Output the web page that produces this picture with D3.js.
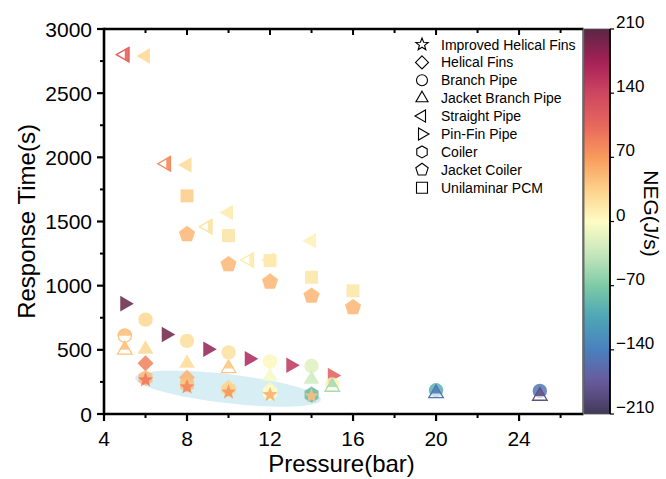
<!DOCTYPE html>
<html lang="en">
  <head>
    <meta charset="UTF-8" />
    <title>Response Time vs Pressure</title>
    <script src="https://d3js.org/d3.v7.min.js"></script>
    <style>
      body { margin: 0; background: white; }
      text { font-family: "Liberation Sans", Arial, sans-serif; fill: #000; }
    </style>
  </head>
  <body>
    <div id="chart"></div>
    <script>
      // ----------- Data ----------- //
      var seriesNames = ['Improved Helical Fins', 'Helical Fins', 'Branch Pipe', 'Jacket Branch Pipe',
        'Straight Pipe', 'Pin-Fin Pipe', 'Coiler', 'Jacket Coiler', 'Unilaminar PCM'];
      var seriesShapes = ['star', 'diamond', 'circle', 'triangle', 'triLeft', 'triRight', 'hexagon', 'pentagon', 'square'];

      // pressure (bar), response time (s), NEG (J/s), style: f = filled, h = half filled
      var improvedP = [6, 8, 10, 12, 14];
      var improvedT = [265, 210, 170, 150, 140];
      var improvedN = [95, 85, 75, 60, 45];
      var improvedS = ['f', 'f', 'f', 'f', 'f'];

      var helicalP = [6, 8, 10, 12, 14];
      var helicalT = [395, 285, 205, 190, 160];
      var helicalN = [88, 55, 35, 5, -25];
      var helicalS = ['f', 'f', 'f', 'f', 'f'];

      var branchP = [5, 6, 8, 10, 12, 14, 15, 20, 25];
      var branchT = [610, 735, 570, 480, 410, 375, 230, 185, 180];
      var branchN = [45, 30, 25, 22, 5, -20, 10, -95, -150];
      var branchS = ['h', 'f', 'f', 'f', 'f', 'f', 'f', 'f', 'f'];

      var jacketBranchP = [5, 6, 8, 10, 12, 14, 15, 20, 25];
      var jacketBranchT = [500, 505, 395, 355, 295, 270, 210, 160, 140];
      var jacketBranchN = [45, 30, 28, 40, -5, -30, -50, -150, -185];
      var jacketBranchS = ['h', 'f', 'f', 'h', 'f', 'f', 'h', 'h', 'h'];

      var straightP = [5, 6, 7, 8, 9, 10, 11, 12, 14];
      var straightT = [2800, 2790, 1950, 1940, 1460, 1570, 1200, 1200, 1350];
      var straightN = [110, 30, 80, 28, 20, 15, 15, 15, 10];
      var straightS = ['h', 'f', 'h', 'f', 'h', 'f', 'h', 'f', 'f'];

      var pinFinP = [5, 7, 9, 11, 13, 15];
      var pinFinT = [860, 620, 505, 430, 380, 300];
      var pinFinN = [205, 200, 185, 170, 155, 115];
      var pinFinS = ['f', 'f', 'f', 'f', 'f', 'f'];

      var coilerP = [6, 8, 10, 12, 14];
      var coilerT = [280, 230, 195, 165, 150];
      var coilerN = [50, 45, 30, 0, -85];
      var coilerS = ['f', 'f', 'f', 'f', 'f'];

      var jacketCoilerP = [8, 10, 12, 14, 16];
      var jacketCoilerT = [1400, 1165, 1030, 920, 830];
      var jacketCoilerN = [52, 52, 52, 52, 52];
      var jacketCoilerS = ['f', 'f', 'f', 'f', 'f'];

      var unilaminarP = [8, 10, 12, 14, 16];
      var unilaminarT = [1700, 1390, 1195, 1065, 960];
      var unilaminarN = [38, 20, 18, 18, 18];
      var unilaminarS = ['f', 'f', 'f', 'f', 'f'];

      var xTicks = [4, 8, 12, 16, 20, 24];
      var yTicks = [0, 500, 1000, 1500, 2000, 2500, 3000];
      var cbTicks = [210, 140, 70, 0, -70, -140, -210];

      // highlighted region (ellipse between two data points)
      var ellipseEnds = [[5.5, 282], [14.45, 112]];

      // ----------- Basic Variables ----------- //
      var width = 666, height = 479;
      var mLeft = 104, mTop = 29, plotW = 479, plotH = 385;
      var cbX = 584, cbW = 26;

      var svg = d3.select('#chart').append('svg')
        .attr('width', width)
        .attr('height', height);

      var xScale = d3.scaleLinear().domain([4, 27.08]).range([mLeft, mLeft + plotW]);
      var yScale = d3.scaleLinear().domain([0, 3000]).range([mTop + plotH, mTop]);

      var colorScale = d3.scaleLinear()
        .domain([-210, -175, -140, -105, -70, -35, 0, 35, 70, 105, 140, 175, 210])
        .range(['#403a58', '#6a5a9c', '#4a80be', '#4ca5b6', '#7ecaa6', '#c6e7bd', '#fefcc4',
                '#fdd18a', '#f89a5c', '#e8675c', '#cd4660', '#a52058', '#5a2644'])
        .interpolate(d3.interpolateRgb);

      // ----------- Symbols ----------- //
      function shapePath(type, r) {
        var pts = [], i, a;
        if (type === 'circle') {
          return 'M' + r + ',0A' + r + ',' + r + ' 0 1,1 ' + (-r) + ',0A' + r + ',' + r + ' 0 1,1 ' + r + ',0Z';
        }
        if (type === 'square') {
          pts = [[-r, -r], [r, -r], [r, r], [-r, r]];
        } else if (type === 'diamond') {
          pts = [[0, -r], [r, 0], [0, r], [-r, 0]];
        } else if (type === 'triangle') {
          pts = [[0, -r], [0.866 * r, 0.5 * r], [-0.866 * r, 0.5 * r]];
        } else if (type === 'triLeft') {
          pts = [[-r, 0], [0.5 * r, -0.866 * r], [0.5 * r, 0.866 * r]];
        } else if (type === 'triRight') {
          pts = [[r, 0], [-0.5 * r, -0.866 * r], [-0.5 * r, 0.866 * r]];
        } else if (type === 'hexagon') {
          for (i = 0; i < 6; i++) { a = Math.PI / 3 * i - Math.PI / 2; pts.push([r * Math.cos(a), r * Math.sin(a)]); }
        } else if (type === 'pentagon') {
          for (i = 0; i < 5; i++) { a = 2 * Math.PI / 5 * i - Math.PI / 2; pts.push([r * Math.cos(a), r * Math.sin(a)]); }
        } else if (type === 'star') {
          for (i = 0; i < 10; i++) {
            a = Math.PI / 5 * i - Math.PI / 2;
            var rr = i % 2 === 0 ? r : r * 0.42;
            pts.push([rr * Math.cos(a), rr * Math.sin(a)]);
          }
        }
        return 'M' + pts.map(function(p) { return p[0].toFixed(2) + ',' + p[1].toFixed(2); }).join('L') + 'Z';
      }

      var markerSize = { star: 8, diamond: 8, circle: 7.2, triangle: 9, triLeft: 9, triRight: 9,
        hexagon: 8, pentagon: 8.5, square: 6.5 };
      var legendSize = { star: 6.5, diamond: 6.5, circle: 5.5, triangle: 7, triLeft: 7, triRight: 7,
        hexagon: 6, pentagon: 6.5, square: 5.5 };

      var defs = svg.append('defs');
      defs.append('clipPath').attr('id', 'clipTop')
        .append('rect').attr('x', -20).attr('y', -20).attr('width', 40).attr('height', 20);
      defs.append('clipPath').attr('id', 'clipRight')
        .append('rect').attr('x', 0).attr('y', -20).attr('width', 20).attr('height', 40);
      defs.append('clipPath').attr('id', 'plotClip')
        .append('rect').attr('x', mLeft).attr('y', mTop).attr('width', plotW).attr('height', plotH);

      // ----------- Highlight ellipse ----------- //
      var e0 = [xScale(ellipseEnds[0][0]), yScale(ellipseEnds[0][1])];
      var e1 = [xScale(ellipseEnds[1][0]), yScale(ellipseEnds[1][1])];
      var ecx = (e0[0] + e1[0]) / 2, ecy = (e0[1] + e1[1]) / 2;
      var erx = Math.hypot(e1[0] - e0[0], e1[1] - e0[1]) / 2;
      var eAngle = Math.atan2(e1[1] - e0[1], e1[0] - e0[0]) * 180 / Math.PI;
      svg.append('ellipse')
        .attr('cx', 0).attr('cy', 0)
        .attr('rx', erx).attr('ry', 14.5)
        .attr('transform', 'translate(' + ecx + ',' + ecy + ') rotate(' + eAngle + ')')
        .style('fill', '#d3ecf3')
        .style('opacity', 0.9);

      // ----------- Markers ----------- //
      var seriesData = [
        ['square', unilaminarP, unilaminarT, unilaminarN, unilaminarS],
        ['pentagon', jacketCoilerP, jacketCoilerT, jacketCoilerN, jacketCoilerS],
        ['triLeft', straightP, straightT, straightN, straightS],
        ['triRight', pinFinP, pinFinT, pinFinN, pinFinS],
        ['circle', branchP, branchT, branchN, branchS],
        ['triangle', jacketBranchP, jacketBranchT, jacketBranchN, jacketBranchS],
        ['diamond', helicalP, helicalT, helicalN, helicalS],
        ['hexagon', coilerP, coilerT, coilerN, coilerS],
        ['star', improvedP, improvedT, improvedN, improvedS]
      ];

      var markLayer = svg.append('g').attr('clip-path', 'url(#plotClip)');

      seriesData.forEach(function(s) {
        var shape = s[0];
        var pts = s[1].map(function(p, i) { return { p: p, t: s[2][i], n: s[3][i], st: s[4][i] }; });
        var g = markLayer.selectAll(null)
          .data(pts)
          .enter()
          .append('g')
          .attr('transform', function(d) { return 'translate(' + xScale(d.p) + ',' + yScale(d.t) + ')'; });

        g.filter(function(d) { return d.st === 'f'; })
          .append('path')
          .attr('d', shapePath(shape, markerSize[shape]))
          .style('fill', function(d) { return colorScale(d.n); })
          .style('fill-opacity', 0.85);

        var half = g.filter(function(d) { return d.st === 'h'; });
        half.append('path')
          .attr('d', shapePath(shape, markerSize[shape] - 0.6))
          .style('fill', 'white')
          .style('fill-opacity', 0.6)
          .style('stroke', function(d) { return colorScale(d.n); })
          .style('stroke-width', 1.3);
        half.append('path')
          .attr('d', shapePath(shape, markerSize[shape]))
          .attr('clip-path', shape === 'triLeft' ? 'url(#clipRight)' : 'url(#clipTop)')
          .style('fill', function(d) { return colorScale(d.n); })
          .style('fill-opacity', 0.9);
      });

      // ----------- Axes ----------- //
      var axisColor = '#000';
      var frame = svg.append('g');
      frame.append('line').attr('x1', mLeft).attr('x2', mLeft + plotW)
        .attr('y1', mTop + plotH).attr('y2', mTop + plotH)
        .style('stroke', axisColor).style('stroke-width', 2.6);
      frame.append('line').attr('x1', mLeft).attr('x2', mLeft + plotW)
        .attr('y1', mTop).attr('y2', mTop)
        .style('stroke', axisColor).style('stroke-width', 2.6);
      frame.append('line').attr('x1', mLeft).attr('x2', mLeft)
        .attr('y1', mTop - 1.3).attr('y2', mTop + plotH + 1.3)
        .style('stroke', axisColor).style('stroke-width', 2.6);

      var xMinor = d3.range(6, 27, 4);
      var yMinor = d3.range(250, 3000, 500);

      // bottom axis
      var xAxis = svg.append('g').attr('class', 'x-axis');
      xAxis.selectAll('.maj').data(xTicks).enter().append('line')
        .attr('x1', function(d) { return xScale(d); }).attr('x2', function(d) { return xScale(d); })
        .attr('y1', mTop + plotH).attr('y2', mTop + plotH + 7)
        .style('stroke', axisColor).style('stroke-width', 2.2);
      xAxis.selectAll('.min').data(xMinor).enter().append('line')
        .attr('x1', function(d) { return xScale(d); }).attr('x2', function(d) { return xScale(d); })
        .attr('y1', mTop + plotH).attr('y2', mTop + plotH + 4)
        .style('stroke', axisColor).style('stroke-width', 2);
      xAxis.selectAll('text').data(xTicks).enter().append('text')
        .attr('x', function(d) { return xScale(d); })
        .attr('y', mTop + plotH + 32)
        .attr('text-anchor', 'middle')
        .style('font-size', '21px')
        .text(function(d) { return d; });

      // top axis ticks (inward)
      svg.append('g').selectAll('line').data(xTicks.concat(xMinor)).enter().append('line')
        .attr('x1', function(d) { return xScale(d); }).attr('x2', function(d) { return xScale(d); })
        .attr('y1', mTop).attr('y2', function(d) { return xTicks.indexOf(d) >= 0 ? mTop + 6 : mTop + 4; })
        .style('stroke', axisColor).style('stroke-width', 2);

      // left axis
      var yAxis = svg.append('g').attr('class', 'y-axis');
      yAxis.selectAll('.maj').data(yTicks).enter().append('line')
        .attr('x1', mLeft - 7).attr('x2', mLeft)
        .attr('y1', function(d) { return yScale(d); }).attr('y2', function(d) { return yScale(d); })
        .style('stroke', axisColor).style('stroke-width', 2.2);
      yAxis.selectAll('.min').data(yMinor).enter().append('line')
        .attr('x1', mLeft - 4).attr('x2', mLeft)
        .attr('y1', function(d) { return yScale(d); }).attr('y2', function(d) { return yScale(d); })
        .style('stroke', axisColor).style('stroke-width', 2);
      yAxis.selectAll('text').data(yTicks).enter().append('text')
        .attr('x', mLeft - 12)
        .attr('y', function(d) { return yScale(d) + 7.5; })
        .attr('text-anchor', 'end')
        .style('font-size', '21px')
        .text(function(d) { return d; });

      svg.append('text')
        .attr('x', (mLeft + mLeft + plotW) / 2 - 2)
        .attr('y', 472)
        .attr('text-anchor', 'middle')
        .style('font-size', '24px')
        .text('Pressure(bar)');

      svg.append('text')
        .attr('transform', 'translate(35,' + (mTop + plotH / 2) + ') rotate(-90)')
        .attr('text-anchor', 'middle')
        .style('font-size', '24px')
        .text('Response Time(s)');

      // ----------- Legend ----------- //
      var legend = svg.append('g').attr('class', 'legend');
      seriesNames.forEach(function(name, i) {
        var yy = 44.5 + i * 17.9;
        var sh = seriesShapes[i];
        legend.append('path')
          .attr('transform', 'translate(422,' + yy + ')')
          .attr('d', shapePath(sh, legendSize[sh]))
          .style('fill', 'none')
          .style('stroke', '#000')
          .style('stroke-width', 1.1);
        legend.append('text')
          .attr('x', 441)
          .attr('y', yy + 5)
          .style('font-size', '14px')
          .text(name);
      });

      // ----------- Colour bar ----------- //
      var cbScale = d3.scaleLinear().domain([-210, 210]).range([mTop + plotH, mTop]);
      var grad = defs.append('linearGradient').attr('id', 'cbGrad')
        .attr('x1', 0).attr('y1', 1).attr('x2', 0).attr('y2', 0);
      d3.range(-210, 211, 10).forEach(function(v) {
        grad.append('stop')
          .attr('offset', ((v + 210) / 420 * 100) + '%')
          .attr('stop-color', colorScale(v));
      });
      svg.append('rect')
        .attr('x', cbX).attr('y', mTop)
        .attr('width', cbW).attr('height', plotH)
        .style('fill', 'url(#cbGrad)')
        .style('stroke', '#555')
        .style('stroke-width', 0.8);
      svg.append('line')
        .attr('x1', cbX + cbW).attr('x2', cbX + cbW)
        .attr('y1', mTop).attr('y2', mTop + plotH)
        .style('stroke', '#000').style('stroke-width', 1.8);
      svg.append('line')
        .attr('x1', mLeft + plotW).attr('x2', mLeft + plotW)
        .attr('y1', mTop - 1.3).attr('y2', mTop + plotH + 1.3)
        .style('stroke', '#333').style('stroke-width', 1.2);

      var cb = svg.append('g');
      cb.selectAll('line').data(cbTicks).enter().append('line')
        .attr('x1', cbX + cbW).attr('x2', cbX + cbW + 4)
        .attr('y1', function(d) { return cbScale(d); }).attr('y2', function(d) { return cbScale(d); })
        .style('stroke', '#000').style('stroke-width', 1.2);
      cb.selectAll('text').data(cbTicks).enter().append('text')
        .attr('x', cbX + cbW + 6)
        .attr('y', function(d) { return cbScale(d) - 1; })
        .style('font-size', '17px')
        .text(function(d) { return d < 0 ? '\u2212' + Math.abs(d) : d; });

      svg.append('text')
        .attr('transform', 'translate(644,' + (mTop + plotH / 2 - 8) + ') rotate(90)')
        .attr('text-anchor', 'middle')
        .style('font-size', '21px')
        .text('NEG(J/s)');
    </script>
  </body>
</html>
